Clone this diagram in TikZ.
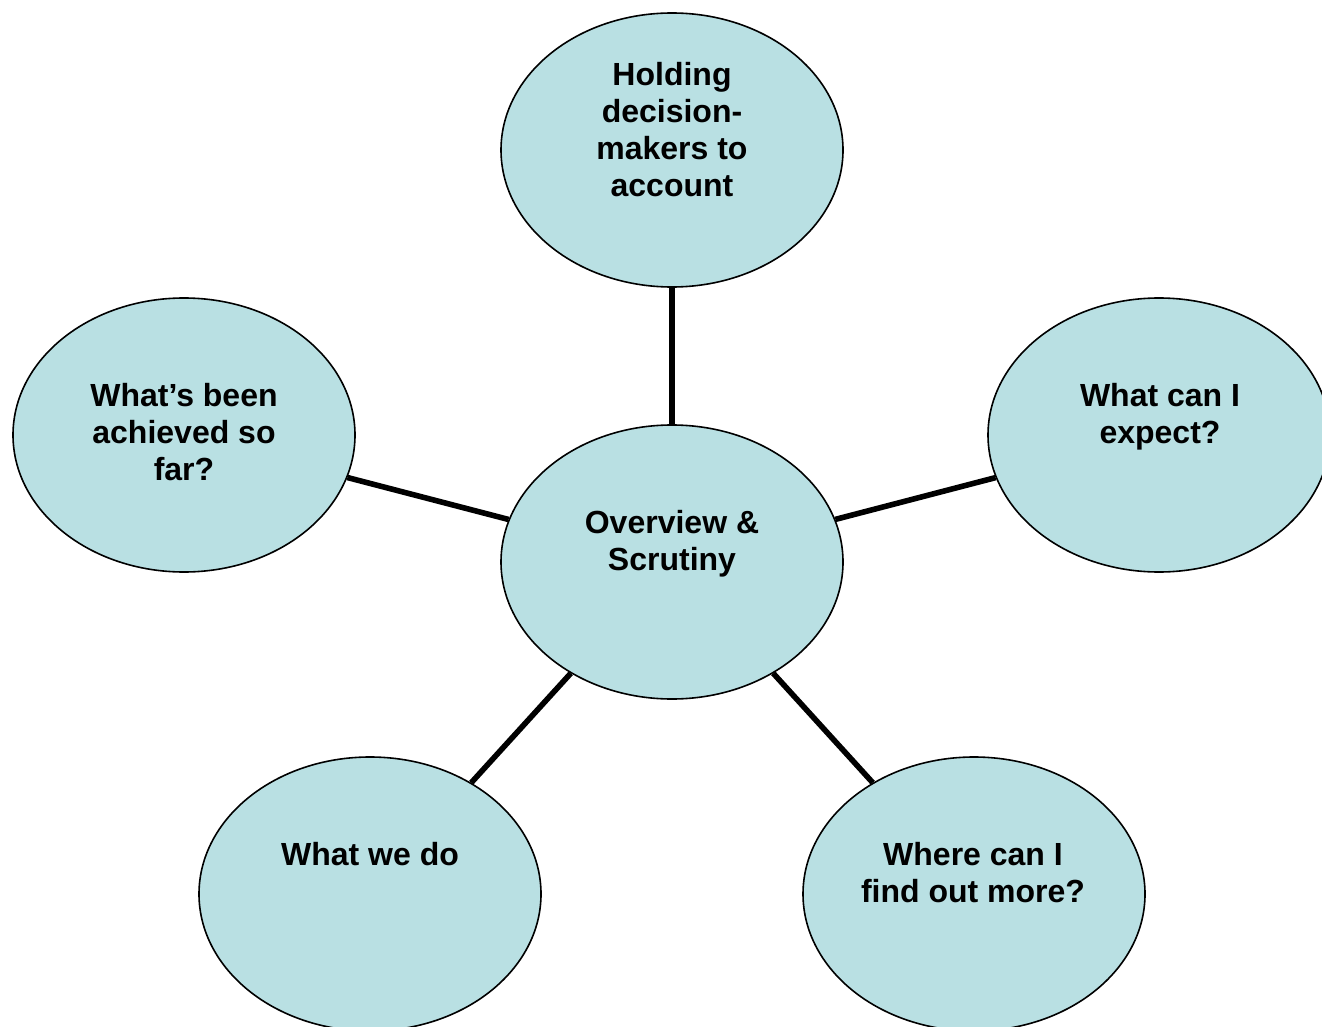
\documentclass[tikz,border=0pt]{standalone}
\usepackage{fontspec}
\setmainfont{Liberation Sans}
\usetikzlibrary{shapes.geometric}
\definecolor{bubblefill}{RGB}{185,224,227}
\tikzset{
	bubble/.style={ellipse,draw=black,line width=0.8pt,fill=bubblefill,minimum width=171pt,minimum height=137pt,inner sep=0pt},
	caption/.style={anchor=north,align=center,inner sep=0pt,font=\bfseries\fontsize{16}{18.5}\selectfont},
	spoke/.style={line width=2.8pt}
}
\begin{document}
\begin{tikzpicture}[x=0.5pt,y=-0.5pt]
		\clip (0,0) rectangle (1322,1027);
		
		% the bubbles
		\node[bubble] (hub) at (672,562){};
		\node[bubble] (holding) at (672,150){};
		\node[bubble] (achieved) at (184,435){};
		\node[bubble] (expect) at (1159,435){};
		\node[bubble] (wedo) at (370,894){};
		\node[bubble] (findout) at (974,894){};
		
		% spokes from the hub
		\draw[spoke] (hub) -- (holding);
		\draw[spoke] (hub) -- (achieved);
		\draw[spoke] (hub) -- (expect);
		\draw[spoke] (hub) -- (wedo);
		\draw[spoke] (hub) -- (findout);
		
		% texts
		\node[caption] (hubtext) at (672,510){Overview \&\\Scrutiny};
		\node[caption] (holdingtext) at (672,62){Holding\\decision-\\makers to\\account};
		\node[caption] (achievedtext) at (184,383){What’s been\\achieved so\\far?};
		\node[caption] (expecttext) at (1160,383){What can I\\expect?};
		\node[caption] (wedotext) at (370,842){What we do};
		\node[caption] (findouttext) at (973,842){Where can I\\find out more?};
	\end{tikzpicture}
\end{document}
